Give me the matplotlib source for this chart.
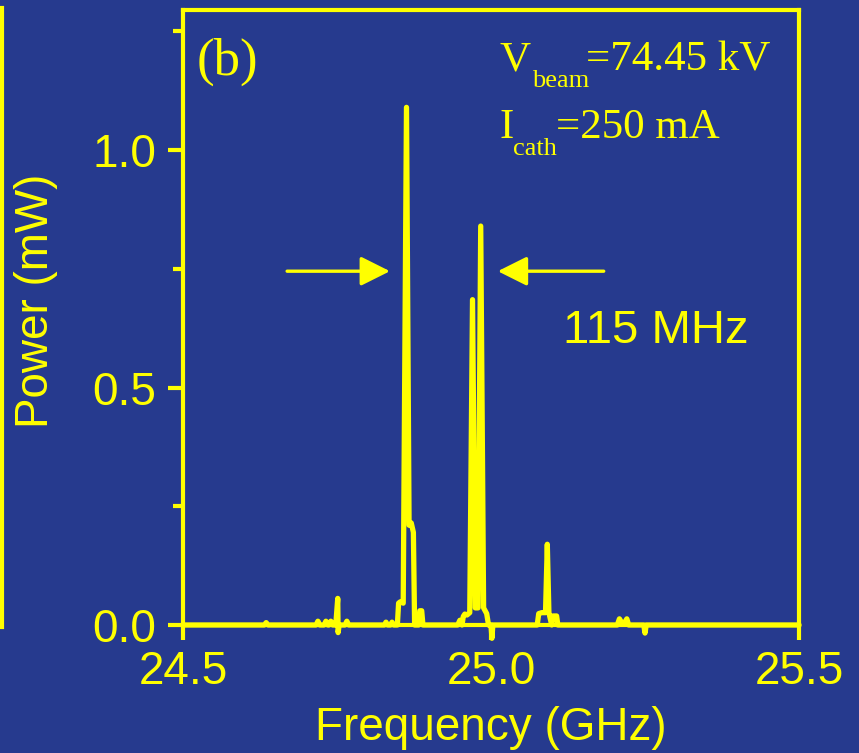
import matplotlib
matplotlib.use("Agg")
import matplotlib.pyplot as plt
from matplotlib.lines import Line2D

# spectrum (GHz, mW)
freq_ghz = [
    24.500, 24.632, 24.635, 24.638,
    24.716, 24.719, 24.722,
    24.729, 24.732, 24.735,
    24.737, 24.740, 24.743,
    24.748, 24.7512, 24.7518, 24.7535,
    24.763, 24.766, 24.769,
    24.827, 24.8295, 24.832,
    24.837, 24.8393, 24.842,
    24.848, 24.850, 24.853, 24.8575, 24.8628, 24.867, 24.8705, 24.874, 24.876,
    24.8825, 24.8845, 24.8875, 24.8895,
    24.946, 24.9495, 24.953, 24.955, 24.9575, 24.961, 24.9655, 24.970,
    24.9745, 24.979, 24.9833, 24.988, 24.993, 24.996,
    25.000, 25.0015, 25.003,
    25.075, 25.0775, 25.0825, 25.0885, 25.0914, 25.094, 25.0985, 25.1005,
    25.1065, 25.1085,
    25.205, 25.2085, 25.2125, 25.2165, 25.2205, 25.2235,
    25.248, 25.250, 25.252,
    25.500]
power_mw = [
    0, 0, 0.005, 0,
    0, 0.008, 0,
    0, 0.008, 0,
    0, 0.008, 0,
    0, 0.056, -0.016, 0,
    0, 0.008, 0,
    0, 0.006, 0,
    0, 0.006, 0,
    0, 0.046, 0.049, 0.046, 1.09, 0.21, 0.215, 0.195, 0,
    0, 0.030, 0.030, 0,
    0, 0.010, 0, 0.018, 0.023, 0.021, 0.026, 0.685,
    0.036, 0.036, 0.84, 0.036, 0.024, 0,
    0, -0.028, 0,
    0, 0.024, 0.026, 0.026, 0.17, 0.026, 0, 0.019,
    0.019, 0,
    0, 0.013, 0.004, 0.004, 0.013, 0,
    0, -0.017, 0,
    0]

x_ticks = [24.5, 25.0, 25.5]
x_tick_labels = ["24.5", "25.0", "25.5"]
y_ticks = [0.0, 0.5, 1.0]
y_tick_labels = ["0.0", "0.5", "1.0"]
y_minor = [0.25, 0.75, 1.25]

# the 115 MHz spacing arrows
arrow_y = 0.745
left_arrow = (24.669, 24.836)
right_arrow = (25.183, 25.011)

bg = "#263a8e"
fg = "#ffff00"
sans = "Liberation Sans"
serif = "Liberation Serif"

fig = plt.figure(figsize=(8.59, 7.53), dpi=100, facecolor=bg)
ax = fig.add_axes([183 / 859, 128 / 753, 616 / 859, 615 / 753])
ax.set_facecolor(bg)

ax.plot(freq_ghz, power_mw, color=fg, lw=3.8, clip_on=False,
        solid_joinstyle="round", solid_capstyle="round", zorder=3)

ax.set_xlim(24.5, 25.5)
ax.set_ylim(0, 1.295)

for s in ax.spines.values():
    s.set_color(fg)
    s.set_linewidth(3.0)

ax.set_xticks(x_ticks)
ax.set_xticklabels(x_tick_labels)
ax.set_yticks(y_ticks)
ax.set_yticklabels(y_tick_labels)
ax.set_yticks(y_minor, minor=True)
ax.tick_params(axis="both", which="major", direction="out", length=11,
               width=3.0, color=fg, labelcolor=fg, labelsize=33)
ax.tick_params(axis="x", pad=7)
ax.tick_params(axis="y", pad=8)
ax.tick_params(axis="y", which="minor", direction="out", length=7,
               width=3.0, color=fg)
for lab in ax.get_xticklabels() + ax.get_yticklabels():
    lab.set_fontfamily(sans)

ax.set_xlabel("Frequency (GHz)", fontsize=33, color=fg, family=sans)
ax.xaxis.label.set_va("baseline")
ax.xaxis.set_label_coords(0.5, (625 - 740) / 615)
ax.set_ylabel("Power (mW)", fontsize=33, color=fg, family=sans)
ax.yaxis.label.set_va("center")
ax.yaxis.set_label_coords((36 - 183) / 616, (625 - 301) / 615)

arrow_props = dict(arrowstyle="-|>,head_length=0.9,head_width=0.45",
                   mutation_scale=20, lw=2.4, color=fg,
                   shrinkA=0, shrinkB=0)
ax.annotate("", xy=(left_arrow[1], arrow_y), xytext=(left_arrow[0], arrow_y),
            arrowprops=arrow_props)
ax.annotate("", xy=(right_arrow[1], arrow_y), xytext=(right_arrow[0], arrow_y),
            arrowprops=arrow_props)
ax.text(25.117, 0.594, "115 MHz", color=fg, fontsize=34, family=sans,
        ha="left", va="baseline")

# panel label and operating point
tkw = dict(transform=ax.transAxes, color=fg, family=serif,
           ha="left", va="baseline")
ax.text(0.0227, 0.894, "(b)", fontsize=38, **tkw)
ax.text(0.5146, 0.9024, "V", fontsize=31, **tkw)
ax.text(0.5666, 0.8748, "beam", fontsize=19, **tkw)
ax.text(0.6542, 0.9024, "=74.45 kV", fontsize=31, **tkw)
ax.text(0.5146, 0.7919, "I", fontsize=31, **tkw)
ax.text(0.5357, 0.7642, "cath", fontsize=19, **tkw)
ax.text(0.6055, 0.7919, "=250 mA", fontsize=31, **tkw)

# edge of the neighbouring panel
fig.add_artist(Line2D([2 / 859, 2 / 859], [1 - 8 / 753, 1 - 627 / 753],
                      transform=fig.transFigure, color=fg, lw=3.0))

fig.savefig("out.png", dpi=100, facecolor=bg)
